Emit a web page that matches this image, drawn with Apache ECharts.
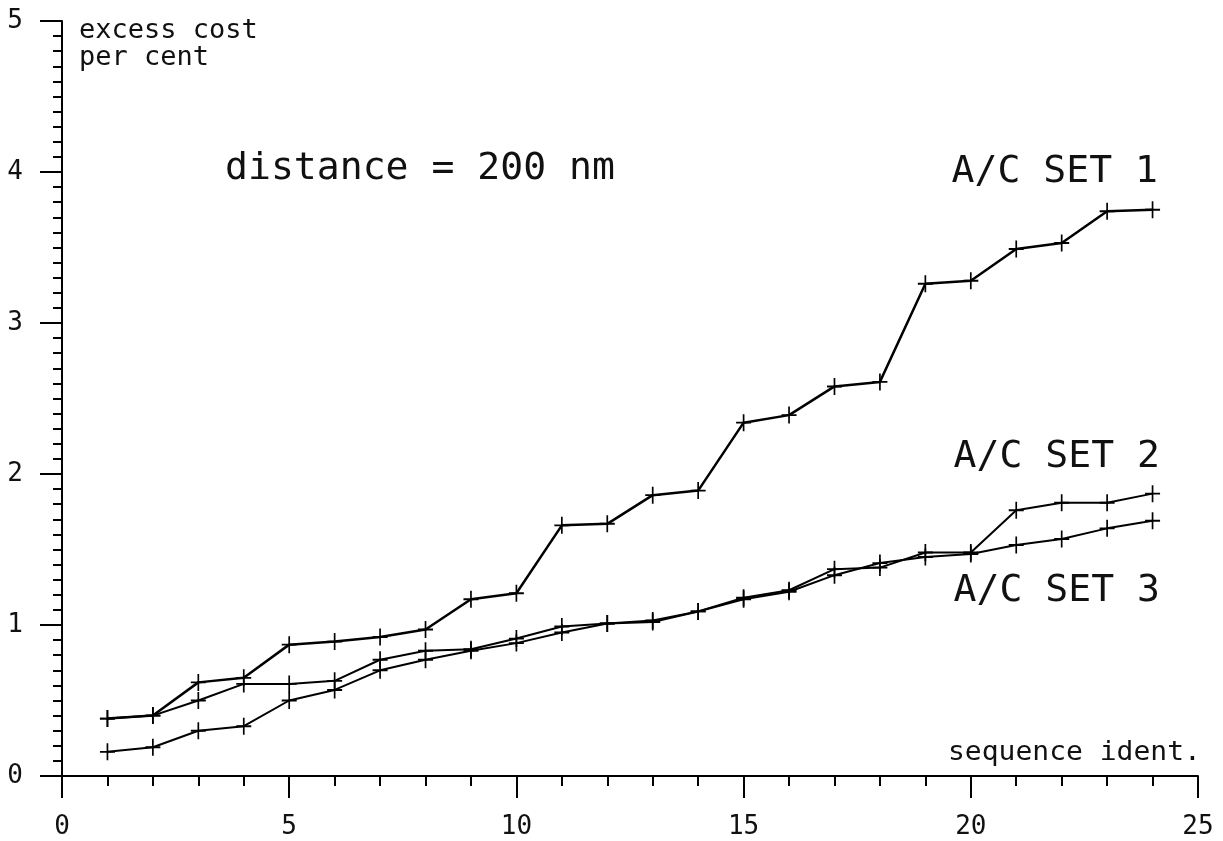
<!DOCTYPE html>
<html>
<head>
<meta charset="utf-8">
<script src="https://cdn.jsdelivr.net/npm/echarts@6/dist/echarts.min.js"></script>
<style>
html,body{margin:0;padding:0;background:#fff;}
#chart{width:1223px;height:841px;}
</style>
</head>
<body>
<div id="chart"></div>
<script>
// Sequence identifiers (x values)
var sequenceIds = [1,2,3,4,5,6,7,8,9,10,11,12,13,14,15,16,17,18,19,20,21,22,23,24];
// Excess cost per cent for each aircraft set
var acSet1 = [0.38,0.40,0.62,0.65,0.87,0.89,0.92,0.97,1.17,1.21,1.66,1.67,1.86,1.89,2.34,2.39,2.58,2.61,3.26,3.28,3.49,3.53,3.74,3.75];
var acSet2 = [0.38,0.40,0.50,0.61,0.61,0.63,0.77,0.83,0.84,0.91,0.99,1.01,1.03,1.09,1.18,1.23,1.37,1.38,1.48,1.48,1.76,1.81,1.81,1.87];
var acSet3 = [0.16,0.19,0.30,0.33,0.50,0.57,0.70,0.77,0.83,0.88,0.95,1.01,1.02,1.09,1.17,1.22,1.33,1.41,1.45,1.47,1.53,1.57,1.64,1.69];
var seriesNames = ['A/C SET 1','A/C SET 2','A/C SET 3'];
var yAxisTitle = ['excess cost','per cent'];
var xAxisTitle = 'sequence ident.';
var noteText = 'distance = 200 nm';

function pairs(vals){ return sequenceIds.map(function(x,i){ return [x, vals[i]]; }); }

var FONT = '"DejaVu Sans Mono", monospace';
var cross = 'path://M0,0L0,20M-10,10L10,10';

function lineSeries(name, vals, w){
  return {
    name: name, type: 'line', data: pairs(vals),
    symbol: cross, symbolSize: [15,17],
    lineStyle: {color:'#000', width:w},
    itemStyle: {color:'none', borderColor:'#000', borderWidth:1.8},
    emphasis: {disabled:true}, animation:false, z:3
  };
}

function txt(s, x, y, fs, sx, sy, align){
  return {type:'text', x:x, y:y, scaleX:sx, scaleY:sy, z:10,
    style:{text:s, font: fs+'px '+FONT, fill:'#111', align:align||'left', verticalAlign:'middle'}};
}

var chart = echarts.init(document.getElementById('chart'), null, {renderer:'canvas'});
chart.setOption({
  backgroundColor:'#fff',
  animation:false,
  grid:{left:62, right:25, top:21, bottom:65, containLabel:false, outerBoundsMode:'none'},
  xAxis:{
    type:'value', min:0, max:25, interval:5,
    axisLine:{show:true, lineStyle:{color:'#000', width:2}},
    axisTick:{show:true, length:22, lineStyle:{color:'#000', width:2}},
    minorTick:{show:true, splitNumber:5, length:10, lineStyle:{color:'#000', width:2}},
    splitLine:{show:false},
    axisLabel:{margin:38, fontSize:26, color:'#111', fontFamily:FONT}
  },
  yAxis:{
    type:'value', min:0, max:5, interval:1,
    axisLine:{show:true, lineStyle:{color:'#000', width:2}},
    axisTick:{show:true, length:22, lineStyle:{color:'#000', width:2}},
    minorTick:{show:true, splitNumber:10, length:9, lineStyle:{color:'#000', width:2}},
    splitLine:{show:false},
    axisLabel:{margin:39, fontSize:26, color:'#111', fontFamily:FONT}
  },
  series:[
    lineSeries(seriesNames[0], acSet1, 2.5),
    lineSeries(seriesNames[1], acSet2, 2),
    lineSeries(seriesNames[2], acSet3, 2)
  ],
  graphic:[
    txt(yAxisTitle[0], 79, 31, 20, 1.35, 1.3),
    txt(yAxisTitle[1], 79, 58, 20, 1.35, 1.3),
    txt(noteText, 225, 169, 30, 1.27, 1.25),
    txt(seriesNames[0], 1158, 172, 30, 1.27, 1.25, 'right'),
    txt(seriesNames[1], 1160, 457, 30, 1.27, 1.25, 'right'),
    txt(seriesNames[2], 1160, 591, 30, 1.27, 1.25, 'right'),
    txt(xAxisTitle, 948, 753, 20, 1.4, 1.3)
  ]
});
</script>
</body>
</html>
